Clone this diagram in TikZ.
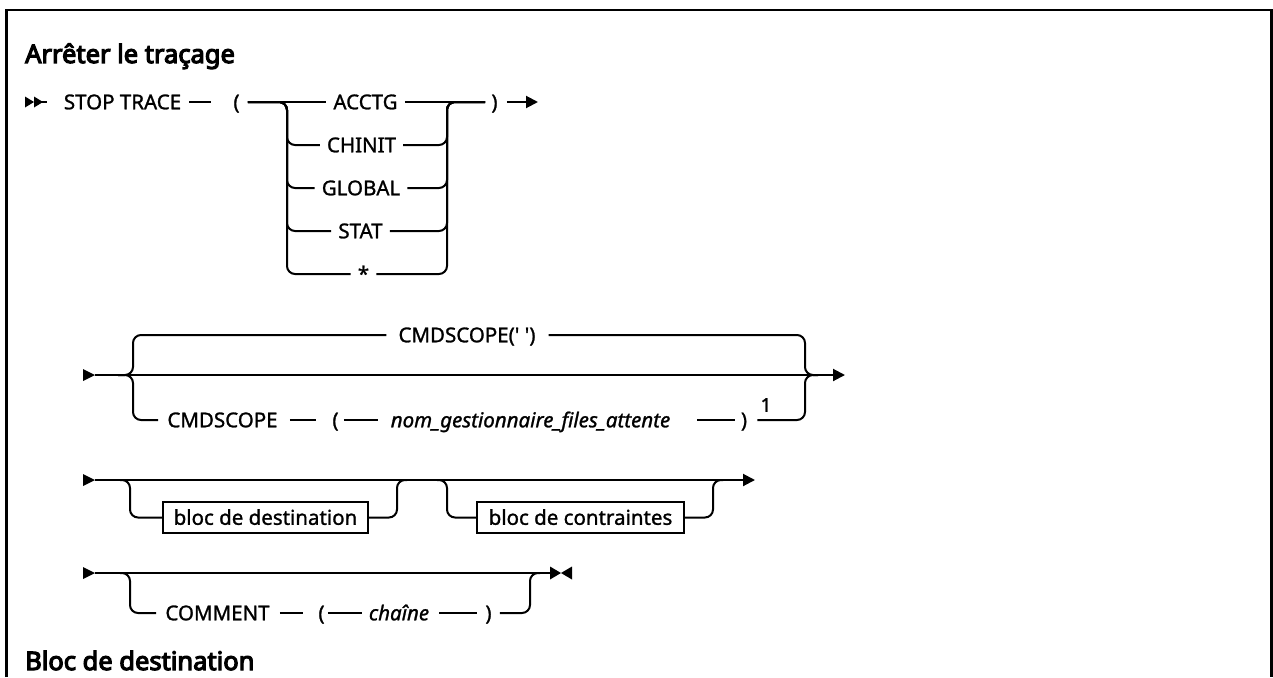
\documentclass[tikz,border=0pt]{standalone}
\usepackage{fontspec}
\setmainfont{Noto Sans}[AutoFakeBold=3]
\usetikzlibrary{arrows.meta}
\begin{document}
\begin{tikzpicture}[x=1pt,y=-1pt,
  every node/.style={inner sep=0pt},
  lbl/.style={font=\fontsize{20.5}{24}\selectfont\addfontfeature{FakeBold=1.2}, text height=14.6pt, text depth=0pt, anchor=center},
  var/.style={lbl, font=\fontsize{20.5}{24}\selectfont\itshape\addfontfeature{FakeBold=1.2}},
  ttl/.style={font=\fontsize{25.5}{30}\selectfont\addfontfeature{FakeBold=4.5}, anchor=base west},
  blk/.style={lbl, draw, line width=1.6pt, minimum height=31pt},
  rail/.style={line width=2pt},
  rc/.style={rail, rounded corners=8pt},
  tip/.style={-{Triangle[length=12pt,width=12pt]}},
]
\useasboundingbox (0,0) rectangle (1273,677);
\draw[line width=2.5pt] (6.5,677) -- (6.5,10) -- (1271.5,10) -- (1271.5,677);

\node[ttl] (t1) at (25,63) {Arrêter le traçage};

% row 1
\coordinate (s1) at (34,102);
\fill (25,96.5) -- (34,102) -- (25,107.5) -- cycle;
\fill (34,96.5) -- (43,102) -- (34,107.5) -- cycle;
\node[lbl] (stop) at (122.5,102) {STOP TRACE};
\node[lbl] (lp1) at (236.5,102) {(};
\node[lbl] (o1) at (365.5,102) {ACCTG};
\node[lbl] (o2) at (361.5,145) {CHINIT};
\node[lbl] (o3) at (361,188) {GLOBAL};
\node[lbl] (o4) at (360.5,231) {STAT};
\node[lbl] (o5) at (363.5,274) {*};
\node[lbl] (rp1) at (494.5,102) {)};
\coordinate (e1) at (538,102);
\draw[rail, shorten >=17pt] (s1) -- (stop.west);
\draw[rail, shorten <=8pt, shorten >=22pt] (stop.east) -- (lp1.west);
\draw[rail, shorten <=8pt, shorten >=7pt] (lp1.east) -- (o1.west);
\foreach \o in {o2,o3,o4,o5}
  \draw[rc, shorten <=8pt, shorten >=7pt] (lp1.east) -- (287,102) |- (\o.west);
\draw[rail, shorten <=7pt, shorten >=6pt] (o1.east) -- (rp1.west);
\foreach \o in {o2,o3,o4,o5}
  \draw[rc, shorten <=7pt, shorten >=6pt] (\o.east) -| (447,102) -- (rp1.west);
\draw[rail, tip, shorten <=9pt] (rp1.east) -- (e1);

% row 2
\coordinate (s2) at (95,375);
\fill (83,369) -- (s2) -- (83,381) -- cycle;
\coordinate (e2) at (845,375);
\draw[rail, tip] (s2) -- (e2);
\coordinate (b2l) at (118,375);
\coordinate (b2r) at (818,375);
\node[lbl] (c1) at (467,335) {CMDSCOPE(\textquotesingle\ \textquotesingle)};
\draw[rc, shorten >=12pt] (b2l) -| (133,335) -- (c1.west);
\draw[rc, shorten <=13pt] (c1.east) -| (805,375) -- (b2r);
\node[lbl] (c2) at (222.5,420) {CMDSCOPE};
\node[lbl] (lp2) at (335.5,420) {(};
\node[var] (qm) at (530.5,420) {nom\_gestionnaire\_files\_attente};
\node[lbl] (rp2) at (744,420) {)};
\node[font=\fontsize{19}{22}\selectfont\addfontfeature{FakeBold=1.2}] (n1) at (766,405) {1};
\draw[rc, shorten >=9pt] (b2l) -| (133,420) -- (c2.west);
\draw[rail, shorten <=12pt, shorten >=16pt] (c2.east) -- (lp2.west);
\draw[rail, shorten <=5pt, shorten >=13pt] (lp2.east) -- (qm.west);
\draw[rail, shorten <=27pt, shorten >=6pt] (qm.east) -- (rp2.west);
\draw[rc, shorten <=10pt] (rp2.east) -| (805,375) -- (b2r);

% row 3
\coordinate (s3) at (95,480);
\fill (83,474) -- (s3) -- (83,486) -- cycle;
\coordinate (e3) at (755,480);
\draw[rail, tip] (s3) -- (e3);
\node[blk, minimum width=205pt] (k1) at (265.5,517.5) {bloc de destination};
\node[blk, minimum width=207pt] (k2) at (580.5,517.5) {bloc de contraintes};
\coordinate (b3a) at (120,480);
\coordinate (b3b) at (407,480);
\coordinate (b3c) at (437,480);
\coordinate (b3d) at (723,480);
\draw[rc] (b3a) -| (130,517.5) -- (k1.west);
\draw[rc] (k1.east) -| (397,480) -- (b3b);
\draw[rc] (b3c) -| (447,517.5) -- (k2.west);
\draw[rc] (k2.east) -| (713,480) -- (b3d);

% row 4
\coordinate (s4) at (95,573);
\fill (83,567) -- (s4) -- (83,579) -- cycle;
\coordinate (e4) at (550,573);
\draw[rail] (s4) -- (e4);
\fill (550,566.5) -- (561,573) -- (550,579.5) -- cycle;
\fill (572,566.5) -- (561,573) -- (572,579.5) -- cycle;
\node[lbl] (cm) at (217.5,613) {COMMENT};
\node[lbl] (lp4) at (321.5,613) {(};
\node[var] (ch) at (399,613) {chaîne};
\node[lbl] (rp4) at (488.5,613) {)};
\coordinate (b4a) at (120,573);
\coordinate (b4b) at (540,573);
\draw[rc, shorten >=9pt] (b4a) -| (130,613) -- (cm.west);
\draw[rail, shorten <=10pt, shorten >=15pt] (cm.east) -- (lp4.west);
\draw[rail, shorten <=3pt, shorten >=7pt] (lp4.east) -- (ch.west);
\draw[rail, shorten <=10pt, shorten >=8pt] (ch.east) -- (rp4.west);
\draw[rc, shorten <=8pt] (rp4.east) -| (530,573) -- (b4b);

\node[ttl] (t2) at (25,670) {Bloc de destination};
\end{tikzpicture}
\end{document}
